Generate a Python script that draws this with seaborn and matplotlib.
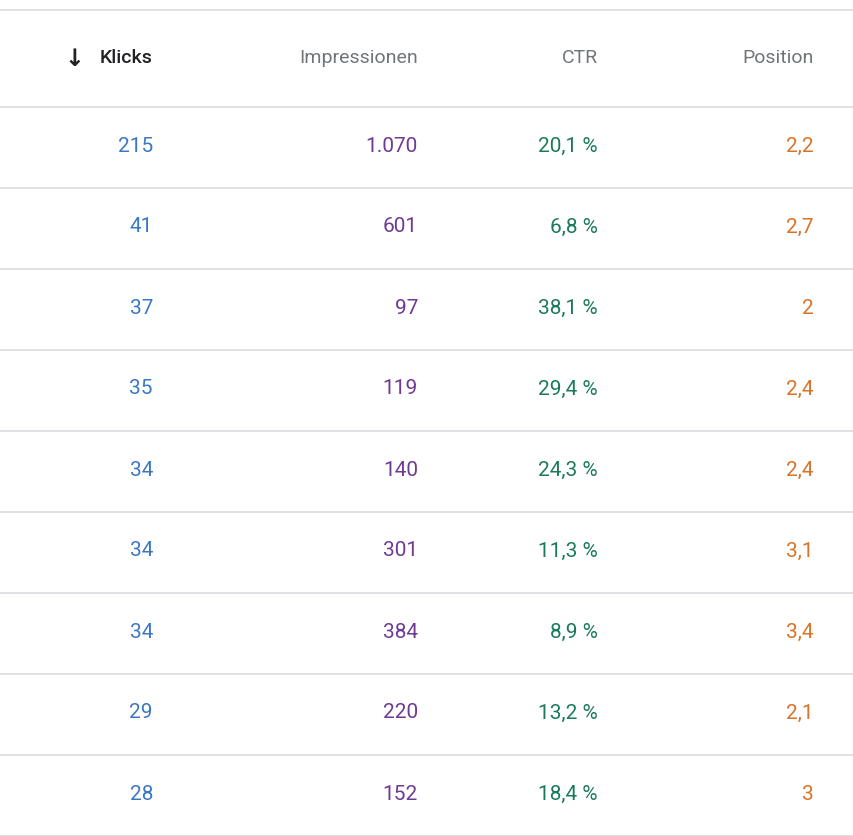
import matplotlib.pyplot as plt
import seaborn as sns

# table data
klicks = [215, 41, 37, 35, 34, 34, 34, 29, 28]
impressionen = ["1.070", "601", "97", "119", "140", "301", "384", "220", "152"]
ctr = ["20,1 %", "6,8 %", "38,1 %", "29,4 %", "24,3 %", "11,3 %", "8,9 %", "13,2 %", "18,4 %"]
position = ["2,2", "2,7", "2", "2,4", "2,4", "3,1", "3,4", "2,1", "3"]
headers = ["Klicks", "Impressionen", "CTR", "Position"]

sns.set_theme(style="white", font="Roboto")
fig = plt.figure(figsize=(8.54, 8.36), dpi=100)
ax = fig.add_axes([0, 0, 1, 1])
ax.set_xlim(0, 854)
ax.set_ylim(836, 0)
ax.axis("off")

col_right = [153, 418, 598, 814]
colors = ["#3b78c2", "#6e3a94", "#1c7a5c", "#d97327"]
line_col = "#dadce0"
row_h = 81
first = 146

# header
ax.axhline(10, color=line_col, lw=1.2)
ax.axhline(107, color=line_col, lw=1.2)
for i, h in enumerate(headers):
    if i == 0:
        ax.text(col_right[i], 58, h, ha="right", va="center", fontsize=14,
                color="#202124", fontweight="medium")
        ax.text(74, 59, "\u2193", ha="center", va="center", fontsize=17,
                color="#202124", family="DejaVu Sans", fontweight="bold")
    else:
        ax.text(col_right[i], 58, h, ha="right", va="center", fontsize=14, color="#70757a")

cols = [[str(k) for k in klicks], impressionen, ctr, position]
for r in range(len(klicks)):
    y = first + r * row_h
    for c in range(4):
        ax.text(col_right[c], y, cols[c][r], ha="right", va="center",
                fontsize=15, color=colors[c])
    ax.axhline(y + row_h / 2 + 1, color=line_col, lw=1.2)

fig.savefig("out.png", dpi=100)
